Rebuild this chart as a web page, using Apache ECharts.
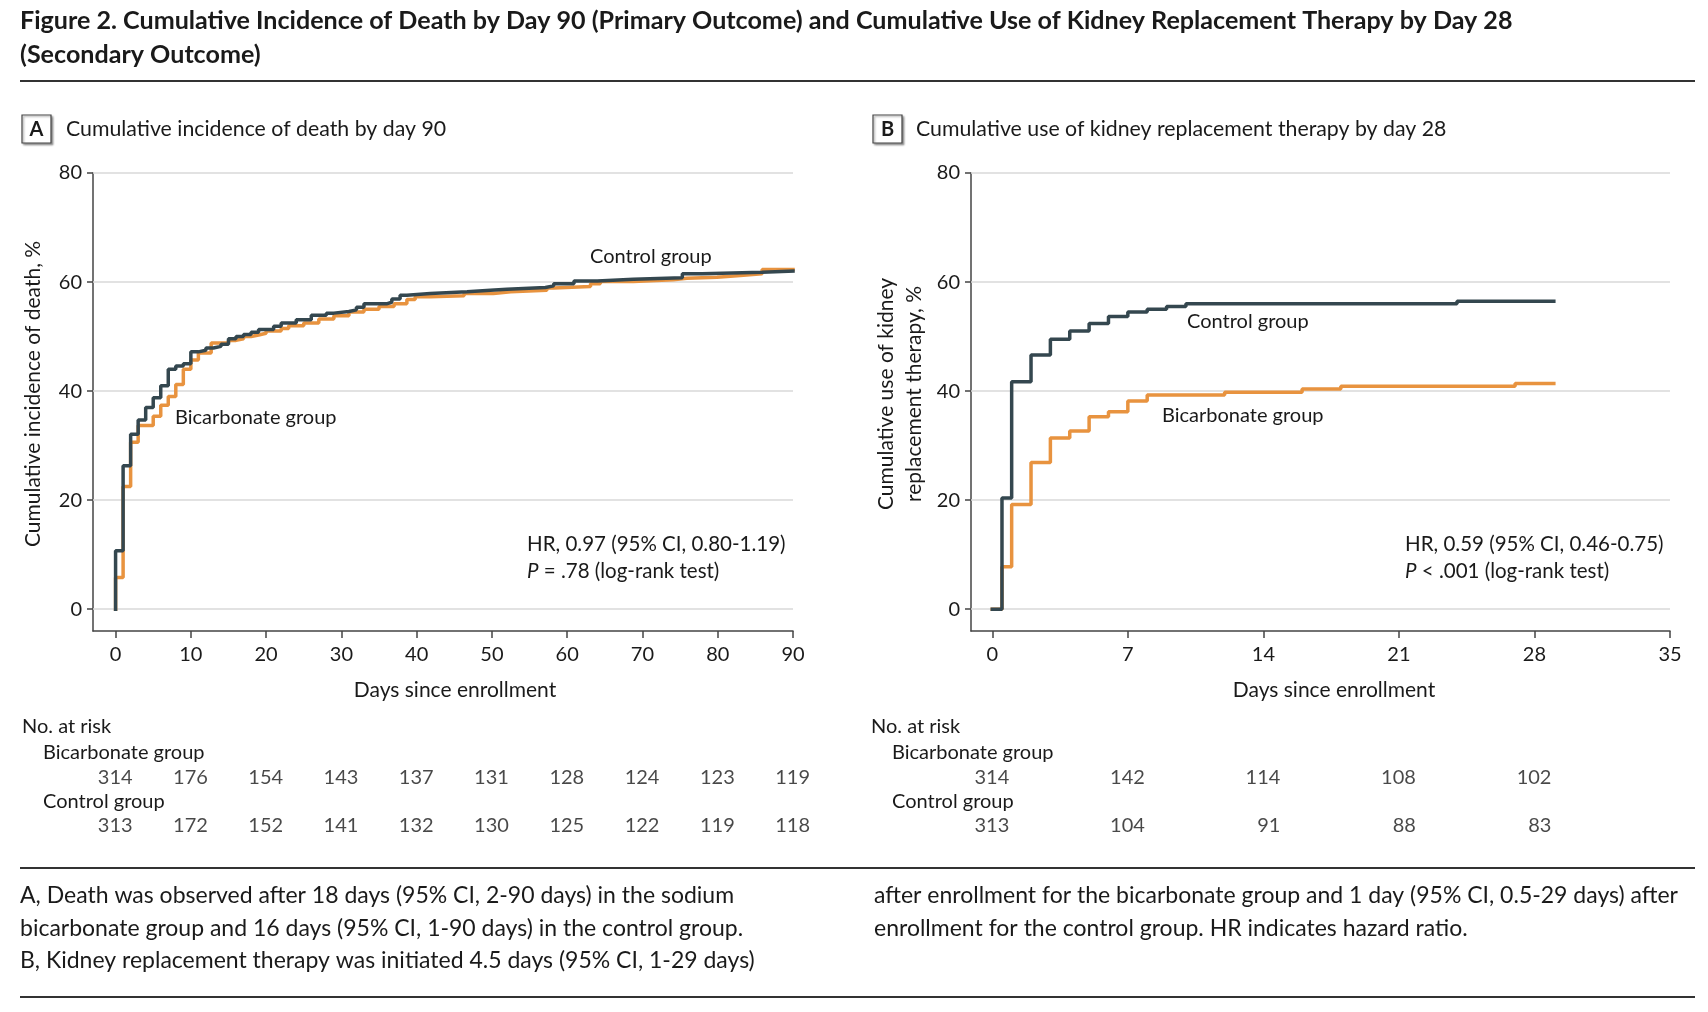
<!DOCTYPE html>
<html><head><meta charset="utf-8">
<script src="https://cdn.jsdelivr.net/npm/echarts@6/dist/echarts.min.js"></script>
<style>html,body{margin:0;padding:0;background:#fff}#c{width:1708px;height:1012px}</style>
</head><body><div id="c"></div>
<script>
// ---------- data ----------
const ticksA = [0, 10, 20, 30, 40, 50, 60, 70, 80, 90];
const ticksB = [0, 7, 14, 21, 28, 35];
const yTicks = [0, 20, 40, 60, 80];

// Panel A: cumulative incidence of death (%), [day, value]
const deathControl = [[0,0],[0,10.7],[1,26.3],[2,32.1],[3,34.7],[4,37.0],[5,38.8],[6,41.0],[7,44.0],[8,44.6],[9,45.0],[10,47.2],[11,47.5],[12,47.9],[13,48.2],[14,48.6],[15,49.6],[16,50.0],[17,50.4],[18,50.8],[19,51.3],[21,51.9],[22,52.5],[24,53.1],[26,53.9],[28,54.3],[29,54.6],[31,54.9],[32,55.4],[33,56.0],[36,56.3],[36.7,56.9],[37.8,57.6],[38.7,57.9],[41.8,58.2],[46.7,58.5],[49.8,58.7],[52,59.0],[57.1,59.3],[58.2,59.7],[60.9,60.2],[64,60.5],[68.8,60.8],[75.3,61.5],[77.9,61.8],[85.9,62.0],[90,62.0]];
const deathBicarb = [[0,0],[0,5.8],[1,22.5],[2,30.6],[3,33.7],[5,35.4],[6,37.4],[7,39.0],[8,41.2],[9,44.0],[10,45.7],[11,47.0],[12.7,48.8],[15,49.3],[16,49.6],[17,50.0],[18,50.3],[19,50.6],[20,51.0],[22,51.5],[23,52.0],[25,52.5],[27,53.2],[29,53.8],[31,54.5],[33,55.0],[35,55.5],[37,56.0],[38.7,56.8],[39.8,57.3],[41.8,57.5],[46.3,57.9],[50.2,58.2],[52.5,58.5],[57.3,58.9],[58.2,59.2],[63.1,59.7],[64.4,60.1],[68.8,60.4],[74.1,60.7],[75.9,60.9],[79.9,61.2],[83,61.5],[85.9,62.3],[90,62.3]];

// Panel B: cumulative use of kidney replacement therapy (%), [day, value]
const krtControl = [[0,0],[0.5,20.4],[1,41.7],[2,46.6],[3,49.5],[4,51.0],[5,52.4],[6,53.7],[7,54.5],[8,55.0],[9,55.5],[10,56.0],[24,56.5],[29,56.5]];
const krtBicarb = [[0,0],[0.5,7.8],[1,19.2],[2,26.9],[3,31.4],[4,32.7],[5,35.3],[6,36.2],[7,38.2],[8,39.3],[12,39.8],[16,40.4],[18,40.9],[27,41.4],[29,41.4]];

// Numbers at risk
const riskDaysA = [0, 10, 20, 30, 40, 50, 60, 70, 80, 90];
const riskBicarbA = [314, 176, 154, 143, 137, 131, 128, 124, 123, 119];
const riskControlA = [313, 172, 152, 141, 132, 130, 125, 122, 119, 118];
const riskDaysB = [0, 7, 14, 21, 28];
const riskBicarbB = [314, 142, 114, 108, 102];
const riskControlB = [313, 104, 91, 88, 83];

// ---------- styles ----------
const FONT = 'Lato, "Noto Sans", sans-serif';
const DARK = '#34474f';
const ORANGE = '#e8933f';
const AXIS = '#444';
const TXT = '#1a1a1a';

const chart = echarts.init(document.getElementById('c'), null, {renderer: 'canvas'});

function mainX(idx, min, max, ticks) {
  return {
    type: 'value', gridIndex: idx, min: min, max: max,
    splitLine: {show: false},
    axisLine: {show: true, onZero: false, lineStyle: {color: AXIS, width: 1.5}},
    axisTick: {show: true, length: 7, customValues: ticks, lineStyle: {color: AXIS, width: 1.5}},
    axisLabel: {customValues: ticks, fontSize: 20, color: TXT, fontFamily: FONT, margin: 14}
  };
}
function mainY(idx) {
  return {
    type: 'value', gridIndex: idx, min: -4, max: 80,
    splitLine: {show: false},
    axisLine: {show: true, onZero: false, lineStyle: {color: AXIS, width: 1.5}},
    axisTick: {show: true, length: 6, customValues: yTicks, lineStyle: {color: AXIS, width: 1.5}},
    axisLabel: {customValues: yTicks, fontSize: 20, color: TXT, fontFamily: FONT, margin: 11}
  };
}
function gridLines(xi, yi) {
  return {
    type: 'line', xAxisIndex: xi, yAxisIndex: yi, data: [[0, 0]], symbol: 'none',
    lineStyle: {width: 0, opacity: 0}, silent: true, z: 1,
    markLine: {
      silent: true, symbol: ['none', 'none'], z: 1, animation: false,
      label: {show: false},
      lineStyle: {color: '#d9d9d9', width: 1.5, type: 'solid'},
      data: yTicks.map(v => ({yAxis: v}))
    }
  };
}
function curve(xi, yi, data, color, z) {
  return {
    type: 'line', xAxisIndex: xi, yAxisIndex: yi, data: data, step: 'end',
    showSymbol: false, symbol: 'none', z: z,
    lineStyle: {color: color, width: 3.5, cap: 'square'}
  };
}
function risk(xi, yi, days, vals, row) {
  return {
    type: 'scatter', xAxisIndex: xi, yAxisIndex: yi, symbolSize: 1,
    itemStyle: {color: 'rgba(0,0,0,0)'},
    data: days.map((d, i) => [d, row, vals[i]]),
    label: {
      show: true, position: 'inside', align: 'right', verticalAlign: 'middle',
      offset: [17, 0], fontSize: 20, color: TXT, fontFamily: FONT,
      formatter: p => String(p.value[2])
    }
  };
}
function txt(x, y, text, opts) {
  opts = opts || {};
  return {
    type: 'text', x: x, y: y, rotation: opts.rotation || 0, silent: true,
    style: Object.assign({
      text: text, fill: TXT, fontFamily: FONT, fontSize: 20,
      align: 'left', verticalAlign: 'middle'
    }, opts.style || {})
  };
}
function hline(x1, x2, y, w) {
  return {type: 'line', silent: true, shape: {x1: x1, y1: y, x2: x2, y2: y}, style: {stroke: '#333', lineWidth: w || 2}};
}
function box(x, y, letter) {
  return [
    {type: 'rect', silent: true, shape: {x: x, y: y, width: 29, height: 28},
     style: {fill: '#fff', stroke: '#444', lineWidth: 1.2, shadowBlur: 2, shadowOffsetX: 1.5, shadowOffsetY: 1.5, shadowColor: 'rgba(0,0,0,0.35)'}},
    txt(x + 14.5, y + 14.5, letter, {style: {align: 'center', fontWeight: 'bold', fontSize: 20}})
  ];
}

const rich = {i: {fontStyle: 'italic', fontFamily: FONT, fontSize: 20.5, fill: TXT}};

const graphics = [
  txt(20, 21, 'Figure 2. Cumulative Incidence of Death by Day 90 (Primary Outcome) and Cumulative Use of Kidney Replacement Therapy by Day 28', {style: {fontSize: 25.1, fontWeight: 'bold'}}),
  txt(20, 55, '(Secondary Outcome)', {style: {fontSize: 25.1, fontWeight: 'bold'}}),
  hline(20, 1695, 81, 2),
  ...box(22, 115, 'A'),
  txt(66, 129, 'Cumulative incidence of death by day 90', {style: {fontSize: 21.3}}),
  ...box(873, 115, 'B'),
  txt(916, 129, 'Cumulative use of kidney replacement therapy by day 28', {style: {fontSize: 21.3}}),
  // axis names
  txt(33, 394, 'Cumulative incidence of death, %', {rotation: Math.PI / 2, style: {align: 'center', fontSize: 21}}),
  txt(886, 394, 'Cumulative use of kidney', {rotation: Math.PI / 2, style: {align: 'center', fontSize: 21}}),
  txt(914, 394, 'replacement therapy, %', {rotation: Math.PI / 2, style: {align: 'center', fontSize: 21}}),
  txt(455, 690, 'Days since enrollment', {style: {align: 'center', fontSize: 21}}),
  txt(1334, 690, 'Days since enrollment', {style: {align: 'center', fontSize: 21}}),
  // in-plot annotations
  txt(590, 257, 'Control group', {style: {fontSize: 20}}),
  txt(175, 418, 'Bicarbonate group', {style: {fontSize: 20}}),
  txt(527, 544, 'HR, 0.97 (95% CI, 0.80-1.19)', {style: {fontSize: 20.5}}),
  txt(527, 571, '{i|P} = .78 (log-rank test)', {style: {fontSize: 20.5, rich: rich}}),
  txt(1187, 322, 'Control group', {style: {fontSize: 20}}),
  txt(1162, 416, 'Bicarbonate group', {style: {fontSize: 20}}),
  txt(1405, 544, 'HR, 0.59 (95% CI, 0.46-0.75)', {style: {fontSize: 20.5}}),
  txt(1405, 571, '{i|P} < .001 (log-rank test)', {style: {fontSize: 20.5, rich: rich}}),
  // risk table labels
  txt(22, 727, 'No. at risk'),
  txt(43, 753, 'Bicarbonate group'),
  txt(43, 802, 'Control group'),
  txt(871, 727, 'No. at risk'),
  txt(892, 753, 'Bicarbonate group'),
  txt(892, 802, 'Control group'),
  // footnote
  hline(20, 1695, 868, 2),
  txt(20, 896, 'A, Death was observed after 18 days (95% CI, 2-90 days) in the sodium', {style: {fontSize: 23}}),
  txt(20, 929, 'bicarbonate group and 16 days (95% CI, 1-90 days) in the control group.', {style: {fontSize: 23}}),
  txt(20, 961, 'B, Kidney replacement therapy was initiated 4.5 days (95% CI, 1-29 days)', {style: {fontSize: 23}}),
  txt(874, 896, 'after enrollment for the bicarbonate group and 1 day (95% CI, 0.5-29 days) after', {style: {fontSize: 23}}),
  txt(874, 929, 'enrollment for the control group. HR indicates hazard ratio.', {style: {fontSize: 23}}),
  hline(20, 1695, 997, 2)
];

const option = {
  animation: false,
  backgroundColor: '#fff',
  grid: [
    {left: 93, top: 173, width: 700, height: 458},
    {left: 971, top: 173, width: 699, height: 458},
    {left: 93, top: 778, width: 700, height: 48},
    {left: 971, top: 778, width: 699, height: 48}
  ],
  xAxis: [
    mainX(0, -3, 90, ticksA),
    mainX(1, -1.1, 35, ticksB),
    {type: 'value', gridIndex: 2, min: -3, max: 90, show: false},
    {type: 'value', gridIndex: 3, min: -1.1, max: 35, show: false}
  ],
  yAxis: [
    mainY(0), mainY(1),
    {type: 'value', gridIndex: 2, min: 0, max: 1, show: false},
    {type: 'value', gridIndex: 3, min: 0, max: 1, show: false}
  ],
  series: [
    gridLines(0, 0),
    gridLines(1, 1),
    curve(0, 0, deathBicarb, ORANGE, 10),
    curve(0, 0, deathControl, DARK, 11),
    curve(1, 1, krtBicarb, ORANGE, 10),
    curve(1, 1, krtControl, DARK, 11),
    risk(2, 2, riskDaysA, riskBicarbA, 1),
    risk(2, 2, riskDaysA, riskControlA, 0),
    risk(3, 3, riskDaysB, riskBicarbB, 1),
    risk(3, 3, riskDaysB, riskControlB, 0)
  ],
  graphic: graphics
};
chart.setOption(option);
</script>
</body></html>
